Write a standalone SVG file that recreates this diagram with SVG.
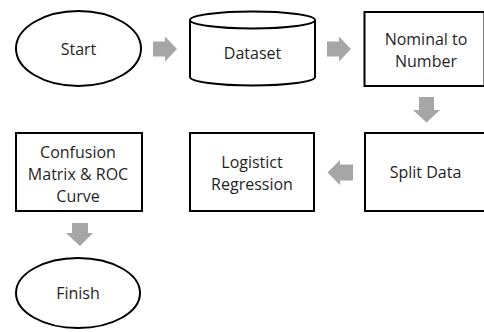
<svg xmlns="http://www.w3.org/2000/svg" width="484" height="332" viewBox="0 0 484 332">
<style>
.s{fill:#fff;stroke:#000;stroke-width:2}
.t{font-family:"Open Sans","Liberation Sans",sans-serif;font-size:16px;fill:#1f1f1f;text-anchor:middle}
.a{fill:#a6a6a6;stroke:none}
</style>
<rect width="484" height="332" fill="#fff"/>
<g id="start">
<ellipse class="s" cx="78.5" cy="48.5" rx="62.5" ry="37.5"/>
<text class="t" x="78.5" y="55">Start</text>
</g>
<g id="dataset">
<path class="s" d="M190,20 V77 A62.5,8.5 0 0 0 315,77 V20"/>
<ellipse class="s" cx="252.5" cy="20" rx="62.5" ry="8.5"/>
<text class="t" x="252.5" y="59">Dataset</text>
</g>
<g id="nominal">
<rect class="s" x="364.5" y="12" width="120" height="74"/>
<text class="t" x="426" y="45">Nominal to</text>
<text class="t" x="426" y="67">Number</text>
</g>
<g id="split">
<rect class="s" x="365" y="133" width="120" height="78"/>
<text class="t" x="425.5" y="178">Split Data</text>
</g>
<g id="logistic">
<rect class="s" x="190" y="133" width="124" height="78"/>
<text class="t" x="252" y="168">Logistict</text>
<text class="t" x="252" y="190">Regression</text>
</g>
<g id="confusion">
<rect class="s" x="16" y="133" width="126" height="78"/>
<text class="t" x="78" y="158">Confusion</text>
<text class="t" x="78" y="180">Matrix &amp; ROC</text>
<text class="t" x="78" y="202">Curve</text>
</g>
<g id="finish">
<ellipse class="s" cx="78" cy="293" rx="62" ry="35"/>
<text class="t" x="78" y="299">Finish</text>
</g>
<g id="connectors">
<polygon class="a" points="153,41.5 165,41.5 165,36.5 177,49 165,61.5 165,56.5 153,56.5"/>
<polygon class="a" points="327,41.5 339,41.5 339,36.5 351,49 339,61.5 339,56.5 327,56.5"/>
<polygon class="a" points="419,97 434,97 434,110 440,110 426.5,122.5 413,110 419,110"/>
<polygon class="a" points="353,164.5 340,164.5 340,160 327.5,172.5 340,185 340,180.5 353,180.5"/>
<polygon class="a" points="72,223 88,223 88,233 93,233 80,246 66,233 72,233"/>
</g>
</svg>
